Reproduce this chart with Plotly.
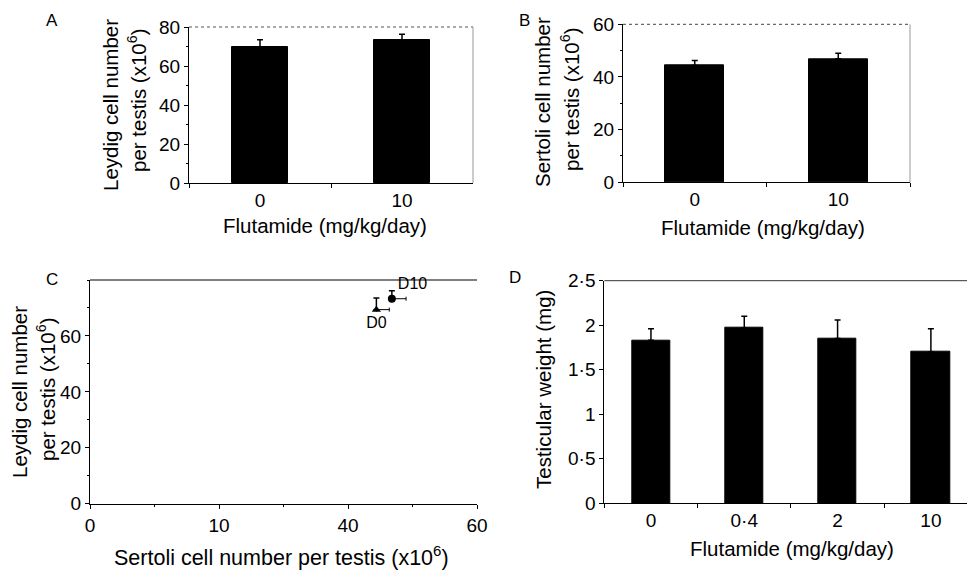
import plotly.graph_objects as go

# ---- data ----
dose_ab = ["0", "10"]
leydig_mean = [69.7, 73.3]
leydig_err = [3.8, 3.0]
sertoli_mean = [44.4, 46.9]
sertoli_err = [1.9, 2.1]

groups_c = ["D0", "D10"]
c_sertoli = [44.4, 46.8]
c_sertoli_err = [2.0, 2.2]
c_leydig = [69.4, 73.3]
c_leydig_err = [4.2, 2.9]

dose_d = ["0", "0·4", "2", "10"]
weight_mean = [1.83, 1.97, 1.85, 1.70]
weight_err = [0.13, 0.13, 0.21, 0.26]

W, H = 967, 571
FONT = "Liberation Sans, Arial, Helvetica, sans-serif"
TICK = 19
TITLE = 20.5

def px(x):
    return x / W

def py(y):
    return 1 - y / H

fig = go.Figure()

err_style = dict(type="data", symmetric=False, color="black", thickness=1.5, width=3)

# Panel A
fig.add_trace(go.Bar(x=dose_ab, y=leydig_mean, width=0.4, marker=dict(color="black", line=dict(color="black", width=1)),
                     error_y=dict(array=leydig_err, arrayminus=[0] * len(leydig_err), **err_style),
                     xaxis="x", yaxis="y", showlegend=False))
# Panel B
fig.add_trace(go.Bar(x=dose_ab, y=sertoli_mean, width=0.41, marker=dict(color="black", line=dict(color="black", width=1)),
                     error_y=dict(array=sertoli_err, arrayminus=[0] * len(sertoli_err), **err_style),
                     xaxis="x2", yaxis="y2", showlegend=False))
# Panel C
symbols = ["triangle-up", "circle"]
positions = ["bottom center", "top right"]
for i in range(len(groups_c)):
    fig.add_trace(go.Scatter(x=[c_sertoli[i]], y=[c_leydig[i]], mode="markers+text",
                             text=[groups_c[i]], textposition=positions[i],
                             textfont=dict(family=FONT, size=16, color="black"),
                             marker=dict(symbol=symbols[i], size=8, color="black"),
                             error_x=dict(array=[c_sertoli_err[i]], arrayminus=[0], type="data", symmetric=False,
                                          color="black", thickness=1, width=2),
                             error_y=dict(array=[c_leydig_err[i]], arrayminus=[0], type="data", symmetric=False,
                                          color="black", thickness=1.5, width=3),
                             xaxis="x3", yaxis="y3", showlegend=False, cliponaxis=False))
# Panel D
fig.add_trace(go.Bar(x=dose_d, y=weight_mean, width=0.41, marker=dict(color="black", line=dict(color="black", width=1)),
                     error_y=dict(array=weight_err, arrayminus=[0] * len(weight_err), **err_style),
                     xaxis="x4", yaxis="y4", showlegend=False))

tickfont = dict(family=FONT, size=TICK, color="black")
axis_common = dict(showgrid=False, zeroline=False, tickfont=tickfont, showline=True, automargin=False,
                   linecolor="black", linewidth=1, ticks="outside", ticklen=4, tickcolor="black")
minor = dict(ticks="outside", ticklen=2, dtick=10, tick0=0, tickcolor="black")

fig.update_layout(
    width=W, height=H, margin=dict(l=0, r=0, t=0, b=0, autoexpand=False),
    paper_bgcolor="white", plot_bgcolor="white",
    font=dict(family=FONT, color="black"),
    bargap=0,
    xaxis=dict(domain=[px(189), px(473)], anchor="y", tickson="boundaries", **axis_common),
    yaxis=dict(domain=[py(183), py(27)], anchor="x", range=[0, 80], tickvals=[0, 20, 40, 60, 80],
               minor=minor, **axis_common),
    xaxis2=dict(domain=[px(623), px(910)], anchor="y2", tickson="boundaries", **axis_common),
    yaxis2=dict(domain=[py(182.3), py(24.3)], anchor="x2", range=[0, 60], tickvals=[0, 20, 40, 60],
                minor=minor, **axis_common),
    xaxis3=dict(domain=[px(90), px(477)], anchor="y3", range=[0, 60], tickvals=[0, 20, 40, 60],
                ticktext=["0", "10", "40", "60"], minor=minor, **axis_common),
    yaxis3=dict(domain=[py(503.7), py(280)], anchor="x3", range=[0, 80], tickvals=[0, 20, 40, 60],
                minor=minor, **axis_common),
    xaxis4=dict(domain=[px(604.3), 1.0], anchor="y4", range=[-0.5, 3.387], tickson="boundaries", **axis_common),
    yaxis4=dict(domain=[py(503.3), py(280.7)], anchor="x4", range=[0, 2.5],
                tickvals=[0, 0.5, 1, 1.5, 2, 2.5], ticktext=["0", "0·5", "1", "1·5", "2", "2·5"], **axis_common),
)

# frame lines (top / right)
shapes = [
    dict(type="line", xref="x domain", yref="y domain", x0=0, x1=1, y0=1, y1=1, line=dict(color="#555", width=1, dash="dot")),
    dict(type="line", xref="x domain", yref="y domain", x0=1, x1=1, y0=0, y1=1, line=dict(color="#999", width=1)),
    dict(type="line", xref="x2 domain", yref="y2 domain", x0=0, x1=1, y0=1, y1=1, line=dict(color="#444", width=1, dash="dot")),
    dict(type="line", xref="x2 domain", yref="y2 domain", x0=1, x1=1, y0=0, y1=1, line=dict(color="#999", width=1)),
    dict(type="line", xref="x3 domain", yref="y3 domain", x0=0, x1=1, y0=1, y1=1, line=dict(color="black", width=1)),
    dict(type="line", xref="x4 domain", yref="y4 domain", x0=0, x1=1, y0=1, y1=1, line=dict(color="#333", width=1)),
]
fig.update_layout(shapes=shapes)

ann = []
def text(x, y, s, size=TITLE, angle=0):
    ann.append(dict(xref="paper", yref="paper", x=px(x), y=py(y), text=s, showarrow=False,
                    xanchor="center", yanchor="middle", textangle=angle,
                    font=dict(family=FONT, size=size, color="black")))

# panel letters
text(52, 20, "A", 17)
text(524, 20, "B", 17)
text(52, 280, "C", 17)
text(515, 277, "D", 17)

# y titles
text(110, 105, "Leydig cell number", angle=-90)
text(137, 100, "per testis (x10<sup>6</sup>)", angle=-90)
text(543, 102, "Sertoli cell number", angle=-90)
text(570, 99, "per testis (x10<sup>6</sup>)", angle=-90)
text(20, 392, "Leydig cell number", angle=-90)
text(46, 389, "per testis (x10<sup>6</sup>)", angle=-90)
text(543, 390, "Testicular weight (mg)", angle=-90)

# x titles
text(325, 226, "Flutamide (mg/kg/day)")
text(763, 228, "Flutamide (mg/kg/day)")
text(281, 556, "Sertoli cell number per testis (x10<sup>6</sup>)", size=21.5)
text(792, 548, "Flutamide (mg/kg/day)")

fig.update_layout(annotations=ann)

fig.write_html("out.html", config={"displayModeBar": False},
               post_script="document.body.style.margin='0';document.body.style.overflow='hidden';")
